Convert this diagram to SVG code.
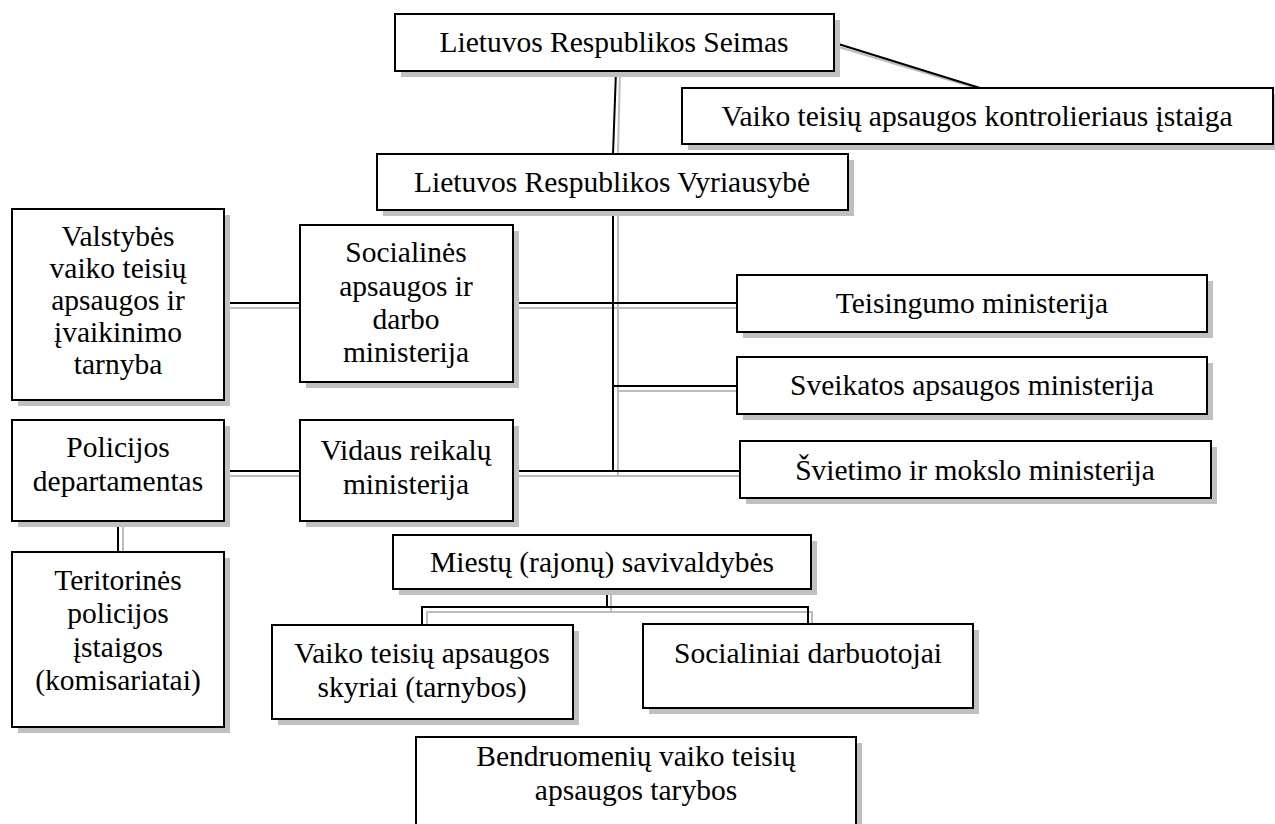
<svg xmlns="http://www.w3.org/2000/svg" width="1275" height="824" viewBox="0 0 1275 824">
<style>
.bx{fill:#fff;stroke:#000;stroke-width:2}
.sh{fill:#c0c0c0;stroke:none}
.ln{stroke:#000;stroke-width:2;fill:none}
.lg{stroke:#bdbdbd;stroke-width:2;fill:none}
</style>
<rect width="1275" height="824" fill="#fff"/>
<g id="connectors">
  <g class="lg">
    <line x1="620" y1="71" x2="618" y2="154"/>
    <line x1="837" y1="46.5" x2="976" y2="88"/>
    <polyline points="618,213 618,476"/>
    <line x1="229" y1="308" x2="300" y2="308"/>
    <line x1="518" y1="308" x2="737" y2="308"/>
    <line x1="617" y1="391" x2="737" y2="391"/>
    <line x1="229" y1="476" x2="300" y2="476"/>
    <line x1="518" y1="476" x2="740" y2="476"/>
    <line x1="123" y1="526" x2="123" y2="552"/>
    <polyline points="611,594 611,612"/>
    <polyline points="427,628 427,612 812,612 812,628"/>
  </g>
  <g class="ln">
    <line x1="616" y1="71" x2="613" y2="154"/>
    <line x1="835" y1="43" x2="980" y2="88"/>
    <line x1="613" y1="210" x2="613" y2="471"/>
    <line x1="224" y1="303" x2="300" y2="303"/>
    <line x1="513" y1="303" x2="737" y2="303"/>
    <line x1="612" y1="386" x2="737" y2="386"/>
    <line x1="224" y1="471" x2="300" y2="471"/>
    <line x1="513" y1="471" x2="740" y2="471"/>
    <line x1="118" y1="521" x2="118" y2="552"/>
    <line x1="607" y1="589" x2="607" y2="607"/>
    <polyline points="422,625 422,607 808,607 808,624"/>
  </g>
</g>
<g font-family="Liberation Serif" font-size="29.5" text-anchor="middle" fill="#000">
<g id="seimas">
  <rect class="sh" x="401" y="20" width="439" height="57"/>
  <rect class="bx" x="395" y="14" width="439" height="57"/>
  <text x="614" y="52">Lietuvos Respublikos Seimas</text>
</g>
<g id="kontrolierius">
  <rect class="sh" x="688" y="94" width="591" height="56"/>
  <rect class="bx" x="682" y="88" width="591" height="56"/>
  <text x="977" y="126">Vaiko teisių apsaugos kontrolieriaus įstaiga</text>
</g>
<g id="vyriausybe">
  <rect class="sh" x="383" y="160" width="471" height="56"/>
  <rect class="bx" x="377" y="154" width="471" height="56"/>
  <text x="612" y="192">Lietuvos Respublikos Vyriausybė</text>
</g>
<g id="valstybes">
  <rect class="sh" x="18" y="215" width="212" height="191"/>
  <rect class="bx" x="12" y="209" width="212" height="191"/>
  <text x="118" y="246">Valstybės</text>
  <text x="118" y="278">vaiko teisių</text>
  <text x="118" y="310">apsaugos ir</text>
  <text x="118" y="342">įvaikinimo</text>
  <text x="118" y="374">tarnyba</text>
</g>
<g id="socialines">
  <rect class="sh" x="306" y="231" width="213" height="157"/>
  <rect class="bx" x="300" y="225" width="213" height="157"/>
  <text x="406" y="262">Socialinės</text>
  <text x="406" y="296">apsaugos ir</text>
  <text x="406" y="329">darbo</text>
  <text x="406" y="362">ministerija</text>
</g>
<g id="teisingumo">
  <rect class="sh" x="743" y="281" width="470" height="57"/>
  <rect class="bx" x="737" y="275" width="470" height="57"/>
  <text x="972" y="313">Teisingumo ministerija</text>
</g>
<g id="sveikatos">
  <rect class="sh" x="743" y="363" width="470" height="57"/>
  <rect class="bx" x="737" y="357" width="470" height="57"/>
  <text x="972" y="395">Sveikatos apsaugos ministerija</text>
</g>
<g id="svietimo">
  <rect class="sh" x="746" y="447" width="471" height="57"/>
  <rect class="bx" x="740" y="441" width="471" height="57"/>
  <text x="975" y="480">Švietimo ir mokslo ministerija</text>
</g>
<g id="policijos">
  <rect class="sh" x="18" y="426" width="212" height="101"/>
  <rect class="bx" x="12" y="420" width="212" height="101"/>
  <text x="118" y="457">Policijos</text>
  <text x="118" y="491">departamentas</text>
</g>
<g id="vidaus">
  <rect class="sh" x="306" y="426" width="213" height="101"/>
  <rect class="bx" x="300" y="420" width="213" height="101"/>
  <text x="406" y="460">Vidaus reikalų</text>
  <text x="406" y="494">ministerija</text>
</g>
<g id="teritorines">
  <rect class="sh" x="18" y="558" width="212" height="175"/>
  <rect class="bx" x="12" y="552" width="212" height="175"/>
  <text x="118" y="590">Teritorinės</text>
  <text x="118" y="623">policijos</text>
  <text x="118" y="657">įstaigos</text>
  <text x="118" y="690">(komisariatai)</text>
</g>
<g id="savivaldybes">
  <rect class="sh" x="399" y="541" width="418" height="54"/>
  <rect class="bx" x="393" y="535" width="418" height="54"/>
  <text x="602" y="572">Miestų (rajonų) savivaldybės</text>
</g>
<g id="skyriai">
  <rect class="sh" x="278" y="631" width="301" height="94"/>
  <rect class="bx" x="272" y="625" width="301" height="94"/>
  <text x="422" y="663">Vaiko teisių apsaugos</text>
  <text x="422" y="697">skyriai (tarnybos)</text>
</g>
<g id="darbuotojai">
  <rect class="sh" x="649" y="630" width="330" height="84"/>
  <rect class="bx" x="643" y="624" width="330" height="84"/>
  <text x="808" y="663">Socialiniai darbuotojai</text>
</g>
<g id="bendruomeniu">
  <rect class="sh" x="422" y="743" width="440" height="100"/>
  <rect class="bx" x="416" y="737" width="440" height="100"/>
  <text x="636" y="766">Bendruomenių vaiko teisių</text>
  <text x="636" y="800">apsaugos tarybos</text>
</g>
</g>
</svg>
